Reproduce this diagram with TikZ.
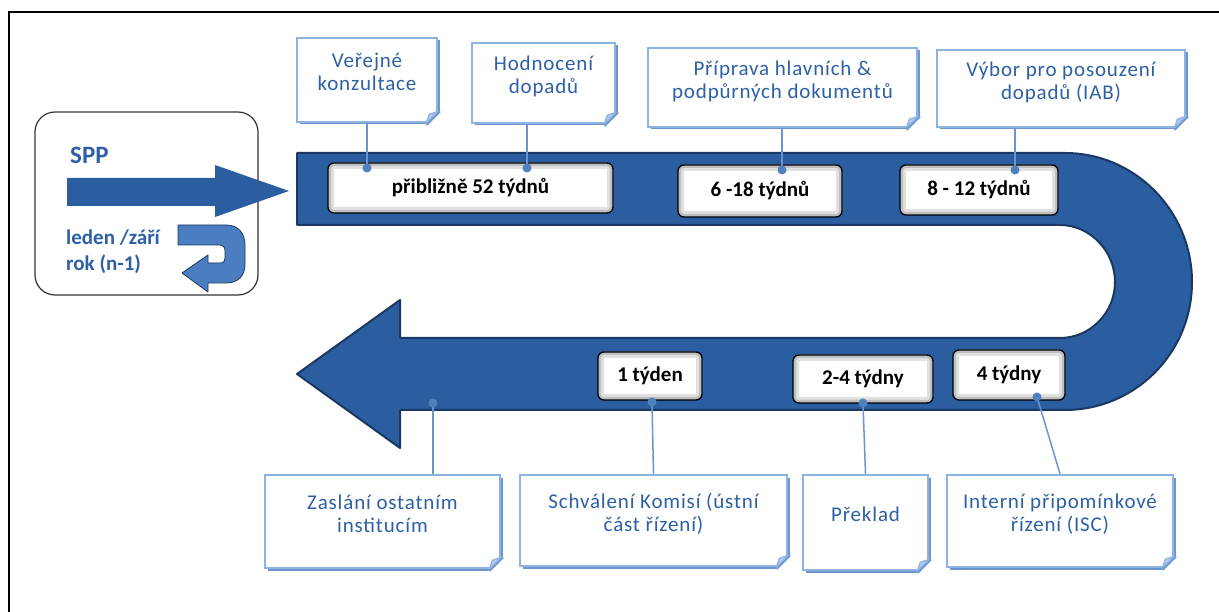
\documentclass[tikz,border=0pt]{standalone}
\usepackage{fontspec}
\setmainfont{Carlito}
\usetikzlibrary{calc,shadows}
\definecolor{bandblue}{RGB}{42,94,160}
\definecolor{banddark}{RGB}{27,56,98}
\definecolor{noteblue}{RGB}{141,179,226}
\definecolor{noteshd}{RGB}{110,150,205}
\definecolor{foldblue}{RGB}{175,202,236}
\definecolor{txtblue}{RGB}{46,96,165}
\definecolor{dotblue}{RGB}{79,129,189}
\definecolor{lineblue}{RGB}{105,150,210}
\definecolor{arrowlight}{RGB}{74,126,192}
\newcommand\notefold[1]{%
  \fill[white] ($(#1.south east)+(-17,6)$) -- ($(#1.south east)+(6,6)$) -- ($(#1.south east)+(6,-17)$) -- cycle;
  \draw[noteshd, line width=2.5pt] ($(#1.south east)+(-12,1.5)$) -- ($(#1.south east)+(1.5,-12)$);
  \filldraw[fill=foldblue, draw=noteblue, line width=1.2pt, line join=round] ($(#1.south east)+(-12,0)$) -- ($(#1.south east)+(0,-12)$) -- ($(#1.south east)+(-9,-9)$) -- cycle;}
\newcommand\lift{\\[-7pt]\mbox{}}
\tikzset{
  note/.style={rectangle, draw=noteblue, line width=2.5pt, fill=white, align=center, text=txtblue,
    font=\fontsize{21}{23}\selectfont\addfontfeature{LetterSpace=4}, inner sep=2pt,
    drop shadow={shadow xshift=2.5pt, shadow yshift=-2.5pt, fill=noteshd, opacity=1}},
  lbl/.style={rectangle, rounded corners=6pt, draw=black, line width=1.3pt, fill=white,
    path picture={
      \draw[black!12, line width=12pt, rounded corners=6pt] (path picture bounding box.south west) rectangle (path picture bounding box.north east);
      \draw[black!25, line width=6pt, rounded corners=6pt] (path picture bounding box.south west) rectangle (path picture bounding box.north east);},
    font=\bfseries\fontsize{21}{23}\selectfont, inner sep=2pt},
  conn/.style={draw=lineblue, line width=1.5pt},
  dot/.style={circle, fill=dotblue, inner sep=0pt, minimum size=9pt},
  lefttext/.style={text=txtblue, font=\bfseries\fontsize{21}{26}\selectfont, align=left, inner sep=0pt},
}
\begin{document}
\begin{tikzpicture}[x=1pt,y=-1pt]
\useasboundingbox (0,0) rectangle (1219,612);
\fill[white] (0,0) rectangle (1219,612);
% outer frame (cut off at right and bottom)
\draw[black, line width=2pt] (9,612) -- (9,12) -- (1219,12);

% SPP box
\node[draw=black!80, line width=1.2pt, rounded corners=20pt, minimum width=223pt, minimum height=183pt] (sppbox) at (146.5,203.5) {};
\node[text=txtblue, font=\bfseries\fontsize{25}{28}\selectfont, anchor=west, inner sep=0pt] (spp) at (70,155) {SPP};
\fill[bandblue] (67,178) -- (215,178) -- (215,165) -- (289,191) -- (215,217) -- (215,206) -- (67,206) -- cycle;
\node[lefttext, anchor=west] (leden) at (66,252) {leden /září\\rok (n-1)};
% small U-turn arrow
\filldraw[fill=arrowlight, draw=banddark, line width=0.8pt, line join=round]
  (178,225) -- (226,225) .. controls (238,225) and (245,233) .. (245,245)
  -- (245,264) .. controls (245,276) and (238,283) .. (226,283)
  -- (208,283) -- (208,292) -- (182,273) -- (208,255) -- (208,263)
  -- (220,263) .. controls (224,263) and (225,261) .. (225,258)
  -- (225,251) .. controls (225,247) and (223,245) .. (220,245)
  -- (178,245) -- cycle;

% main U-shaped band
\path[fill=bandblue, draw=banddark, line width=2pt, line join=round]
  (297,153) -- (1065,153)
  .. controls (1135,153) and (1192,211) .. (1192,282)
  .. controls (1192,353) and (1135,410) .. (1065,410)
  -- (400,410) -- (400,448) -- (297,374) -- (400,300) -- (400,338)
  -- (1060,338)
  .. controls (1090,338) and (1115,313) .. (1115,282)
  .. controls (1115,251) and (1090,225) .. (1060,225)
  -- (297,225) -- cycle;

% duration labels
\node[lbl, minimum width=285pt, minimum height=50pt] (l52) at (470.5,188) {přibližně 52 týdnů};
\node[lbl, minimum width=164pt, minimum height=52pt] (l618) at (760,191) {6 -18 týdnů};
\node[lbl, minimum width=158pt, minimum height=50pt] (l812) at (979,190) {8 - 12 týdnů};
\node[lbl, minimum width=104pt, minimum height=48pt] (l1) at (650,376) {1 týden};
\node[lbl, minimum width=140pt, minimum height=48pt] (l24) at (863,379) {2-4 týdny};
\node[lbl, minimum width=112pt, minimum height=50pt] (l4) at (1009,375) {4 týdny};

% callout notes
\node[note, minimum width=140pt, minimum height=84pt] (ver) at (367,80) {Veřejné\\konzultace\lift};
\notefold{ver}
\node[note, minimum width=143pt, minimum height=80pt] (hod) at (543.5,83) {Hodnocení\\dopadů\lift};
\notefold{hod}
\node[note, minimum width=269pt, minimum height=79pt] (pri) at (782.5,87.5) {Příprava hlavních \&\\podpůrných dokumentů\lift};
\notefold{pri}
\node[note, minimum width=248pt, minimum height=77pt] (vyb) at (1061,88.5) {Výbor pro posouzení\\dopadů (IAB)\lift};
\notefold{vyb}
\node[note, minimum width=235pt, minimum height=93pt] (zas) at (382.5,521.5) {Zaslání ostatním\\institucím\lift};
\notefold{zas}
\node[note, minimum width=267pt, minimum height=91pt] (sch) at (653.5,520.5) {Schválení Komisí (ústní\\část řízení)\lift};
\notefold{sch}
\node[note, minimum width=125pt, minimum height=95pt] (pre) at (865.5,522.5) {Překlad\lift};
\notefold{pre}
\node[note, minimum width=226pt, minimum height=92pt] (int) at (1060,521) {Interní připomínkové\\řízení (ISC)\lift};
\notefold{int}

% connectors
\coordinate (c1) at (367,168);
\coordinate (c2) at (527,168);
\coordinate (c3) at (782,170);
\coordinate (c4) at (1015,170);
\coordinate (c5) at (433,403);
\coordinate (c6) at (652,402);
\coordinate (c7) at (863,403);
\coordinate (c8) at (1037,397);
\draw[conn] (ver.south -| c1) -- (c1);
\draw[conn] (hod.south -| c2) -- (c2);
\draw[conn] (pri.south -| c3) -- (c3);
\draw[conn] (vyb.south -| c4) -- (c4);
\draw[conn] (c5) -- (zas.north -| c5);
\draw[conn] (c6) -- (sch.north);
\draw[conn] (c7) -- (pre.north);
\draw[conn] (c8) -- (int.north);
\foreach \c in {c1,c2,c3,c4,c5,c6,c7,c8} \node[dot] at (\c) {};
\end{tikzpicture}
\end{document}
